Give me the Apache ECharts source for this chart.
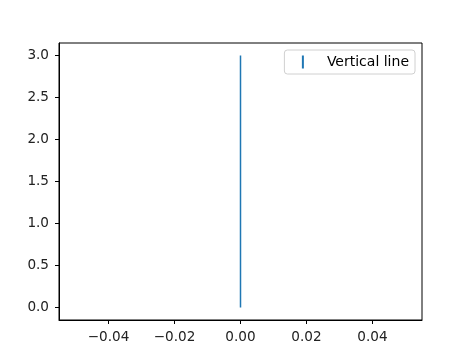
<!DOCTYPE html>
<html><head><meta charset="utf-8">
<script src="https://cdn.jsdelivr.net/npm/echarts@6/dist/echarts.min.js"></script>
<style>html,body{margin:0;padding:0;background:#fff}#c{width:469px;height:360px}</style>
</head><body><div id="c"></div>
<script>
const seriesName = 'Vertical line';
const xValues = [0, 0];
const yValues = [0, 3];
const xTicks = [-0.04, -0.02, 0, 0.02, 0.04];
const yTicks = [0, 0.5, 1, 1.5, 2, 2.5, 3];

const chart = echarts.init(document.getElementById('c'), null, {renderer: 'canvas'});
const font = 'DejaVu Sans';
chart.setOption({
  animation: false,
  backgroundColor: '#fff',
  grid: {left: 59, right: 47, top: 43, bottom: 40, show: true, borderColor: '#000', borderWidth: 1, backgroundColor: 'transparent'},
  legend: {
    data: [{name: seriesName, icon: 'rect'}],
    right: 54, top: 50,
    itemWidth: 2, itemHeight: 13,
    backgroundColor: '#fff', borderColor: '#d0d0d0', borderWidth: 1, borderRadius: 3,
    padding: [5, 6, 5, 17.5],
    textStyle: {fontFamily: font, fontSize: 14, color: '#000', padding: [0, 0, 0, 18]}
  },
  xAxis: {
    type: 'value', min: -0.055, max: 0.055,
    splitLine: {show: false},
    axisLine: {show: true, onZero: false, lineStyle: {color: '#000', width: 1}},
    axisTick: {show: true, customValues: xTicks, length: 4, lineStyle: {color: '#000'}},
    axisLabel: {customValues: xTicks, fontFamily: font, fontSize: 13.6, color: '#222', margin: 10,
      formatter: v => (v < 0 ? '\u2212' : '') + Math.abs(v).toFixed(2)}
  },
  yAxis: {
    type: 'value', min: -0.15, max: 3.15,
    splitLine: {show: false},
    axisLine: {show: true, onZero: false, lineStyle: {color: '#000', width: 1}},
    axisTick: {show: true, customValues: yTicks, length: 4, lineStyle: {color: '#000'}},
    axisLabel: {customValues: yTicks, fontFamily: font, fontSize: 13.6, color: '#222', margin: 10,
      formatter: v => v.toFixed(1)}
  },
  series: [{
    name: seriesName, type: 'line',
    data: xValues.map((x, i) => [x, yValues[i]]),
    showSymbol: false, symbol: 'none',
    itemStyle: {color: '#1f77b4'},
    lineStyle: {color: '#1f77b4', width: 1.5}
  }]
});
</script></body></html>
